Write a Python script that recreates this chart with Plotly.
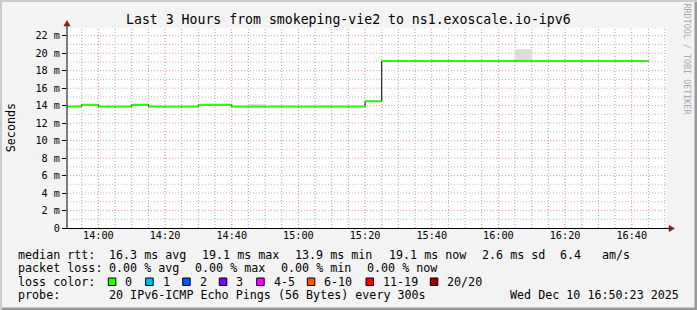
import plotly.graph_objects as go
import pandas as pd

# ---------------- data ----------------
slot_start = list(pd.date_range("2025-12-10 13:50", periods=35, freq="5min"))
median_ms = [13.9, 14.1, 13.9, 13.9, 14.1, 13.9, 13.9, 13.9, 14.1, 14.1,
             13.9, 13.9, 13.9, 13.9, 13.9, 13.9, 13.9, 13.9, 14.5,
             19.1, 19.1, 19.1, 19.1, 19.1, 19.1, 19.1, 19.1,
             19.1, 19.1, 19.1, 19.1, 19.1, 19.1, 19.1, 19.1]

smoke_start = ["2025-12-10 14:45", "2025-12-10 16:00", "2025-12-10 16:05"]
smoke_low = [14.0, 19.1, 19.1]
smoke_high = [14.15, 19.25, 20.45]

y_ticks = [0, 2, 4, 6, 8, 10, 12, 14, 16, 18, 20, 22]
y_ticktext = ["0", "2 m", "4 m", "6 m", "8 m", "10 m", "12 m", "14 m",
              "16 m", "18 m", "20 m", "22 m"]

loss_labels = ["0", "1", "2", "3", "4-5", "6-10", "11-19", "20/20"]
loss_colors = ["#26ff00", "#00b8ff", "#0059ff", "#7e00ff", "#ff00ff",
               "#ff5500", "#ff0000", "#a10000"]

title = "Last 3 Hours from smokeping-vie2 to ns1.exoscale.io-ipv6"
rtt_items = ["median rtt:", "16.3 ms avg", "19.1 ms max", "13.9 ms min",
             "19.1 ms now", "2.6 ms sd", "6.4", "am/s"]
loss_items = ["packet loss:", "0.00 % avg", "0.00 % max", "0.00 % min", "0.00 % now"]
probe_items = ["probe:", "20 IPv6-ICMP Echo Pings (56 Bytes) every 300s"]
stamp = "Wed Dec 10 16:50:23 2025"

# ---------------- geometry ----------------
W, H = 697, 310
L, R, T, B = 67, 667, 27, 228
FONT = "DejaVu Sans Mono"
X_START, X_END = "2025-12-10 13:50:35", "2025-12-10 16:50:35"


def px(x):
    return (x - L) / (R - L)


def py(y):
    return (B - y) / (B - T)


step = pd.Timedelta(minutes=5)
slot_end = slot_start[-1] + step

fig = go.Figure()

# smoke
fig.add_trace(go.Bar(
    x=[pd.Timestamp(s) for s in smoke_start],
    y=[h - l for h, l in zip(smoke_high, smoke_low)],
    base=smoke_low, width=300000, offset=0,
    marker=dict(color="#dcdcdc", line=dict(width=0)),
    hoverinfo="skip", showlegend=False))

# black median line (step)
fig.add_trace(go.Scatter(
    x=slot_start + [slot_end], y=median_ms + [median_ms[-1]],
    mode="lines", line=dict(color="#000000", width=1, shape="hv"),
    hoverinfo="skip", showlegend=False))

# green loss-coloured bands
gx, gy = [], []
for s, v in zip(slot_start, median_ms):
    gx += [s, s + step, None]
    gy += [v, v, None]
fig.add_trace(go.Scatter(
    x=gx, y=gy, mode="lines", line=dict(color=loss_colors[0], width=2),
    hoverinfo="skip", showlegend=False))

grid_minor_h = "#bdbdbd"
grid_major_h = "#ee9a9a"
grid_minor_v = "#a4a4a4"
grid_major_v = "#e88282"
DASH = "1px,2px"

fig.update_xaxes(
    type="date", range=[X_START, X_END],
    tick0="2025-12-10 14:00", dtick=1200000, tickformat="%H:%M",
    showgrid=False, showline=False, zeroline=False, ticks="",
    tickfont=dict(family=FONT, size=10.2, color="#000000"),
    fixedrange=True)

fig.update_yaxes(
    range=[0, 23], tickvals=y_ticks, ticktext=y_ticktext,
    showgrid=False, showline=False, zeroline=False,
    ticks="outside", ticklen=4, tickcolor="#000000", tickwidth=1,
    tickfont=dict(family=FONT, size=10.2, color="#000000"),
    fixedrange=True)

shapes = []
# grid: minor every 5 min / 1 ms (grey), major every 20 min / 2 ms (red)
for t in pd.date_range("2025-12-10 13:55", "2025-12-10 16:50", freq="5min"):
    major = t.minute % 20 == 0
    shapes.append(dict(type="line", xref="x", yref="paper", x0=t, x1=t, y0=0, y1=1,
                       line=dict(color=grid_major_v if major else grid_minor_v, width=1, dash=DASH),
                       layer="below"))
for v in range(1, 24):
    major = v % 2 == 0
    shapes.append(dict(type="line", xref="paper", yref="y", x0=0, x1=1, y0=v, y1=v,
                       line=dict(color=grid_major_h if major else grid_minor_h, width=1, dash=DASH),
                       layer="below"))

# frame shading
shapes.append(dict(type="rect", xref="paper", yref="paper", x0=px(0), x1=px(697),
                   y0=py(0), y1=py(2), fillcolor="#cbcbcb", line=dict(width=0), layer="above"))
shapes.append(dict(type="rect", xref="paper", yref="paper", x0=px(0), x1=px(2),
                   y0=py(0), y1=py(310), fillcolor="#cbcbcb", line=dict(width=0), layer="above"))
shapes.append(dict(type="rect", xref="paper", yref="paper", x0=px(2), x1=px(697),
                   y0=py(307.5), y1=py(310), fillcolor="#9a9a9a", line=dict(width=0), layer="above"))
shapes.append(dict(type="rect", xref="paper", yref="paper", x0=px(694.5), x1=px(697),
                   y0=py(2), y1=py(310), fillcolor="#9a9a9a", line=dict(width=0), layer="above"))
# axes
shapes.append(dict(type="line", xref="paper", yref="paper", x0=px(67), x1=px(67),
                   y0=py(228.5), y1=py(23), line=dict(color="#000000", width=1)))
shapes.append(dict(type="line", xref="paper", yref="paper", x0=px(62.5), x1=px(671),
                   y0=py(228.5), y1=py(228.5), line=dict(color="#000000", width=1)))
# arrows
arrow = "#8b1a1a"
shapes.append(dict(type="path", xref="paper", yref="paper",
                   path=f"M {px(63.8)},{py(26)} L {px(70.2)},{py(26)} L {px(67)},{py(20.5)} Z",
                   fillcolor=arrow, line=dict(color=arrow, width=0.5)))
shapes.append(dict(type="path", xref="paper", yref="paper",
                   path=f"M {px(669)},{py(225.3)} L {px(669)},{py(231.7)} L {px(674.5)},{py(228.5)} Z",
                   fillcolor=arrow, line=dict(color=arrow, width=0.5)))

annotations = []


def text(x, y, s, size=11.7, xanchor="left", color="#000000", angle=0):
    annotations.append(dict(
        xref="paper", yref="paper", x=px(x), y=py(y), text=s, showarrow=False,
        xanchor=xanchor, yanchor="middle", textangle=angle,
        font=dict(family=FONT, size=size, color=color)))


text(348.5, 19.5, title, size=13.2, xanchor="center")
text(10.5, 127.7, "Seconds", angle=-90, xanchor="center")
text(687, 59.5, "RRDTOOL / TOBI OETIKER", size=8.4, xanchor="center",
     color="#a8a8a8", angle=90)

rtt_x = [16, 107.3, 200, 293.3, 387, 479.7, 557.7, 600.3]
for x, s in zip(rtt_x, rtt_items):
    text(x, 254.8, s)
loss_x = [16, 107.3, 193.3, 279.3, 365.3]
for x, s in zip(loss_x, loss_items):
    text(x, 268.2, s)
text(16, 281.6, "loss color:")
box_x = [108.3, 145.7, 182.7, 219.3, 256.7, 307.3, 366, 430.3]
for x, lab, c in zip(box_x, loss_labels, loss_colors):
    shapes.append(dict(type="rect", xref="paper", yref="paper",
                       x0=px(x), x1=px(x + 7.5), y0=py(278), y1=py(285.5),
                       fillcolor=c, line=dict(color="#000000", width=1)))
    text(x + 15, 281.6, lab)
probe_x = [16, 107.3]
for x, s in zip(probe_x, probe_items):
    text(x, 295, s)
text(680.5, 295, stamp, xanchor="right")

fig.update_layout(
    width=W, height=H,
    margin=dict(l=L, r=W - R, t=T, b=H - B, pad=0),
    paper_bgcolor="#f3f3f3", plot_bgcolor="#ffffff",
    barmode="overlay", showlegend=False,
    shapes=shapes, annotations=annotations,
    font=dict(family=FONT, color="#000000"),
    hovermode=False)

fig.write_html("out.html", config={"displayModeBar": False})
